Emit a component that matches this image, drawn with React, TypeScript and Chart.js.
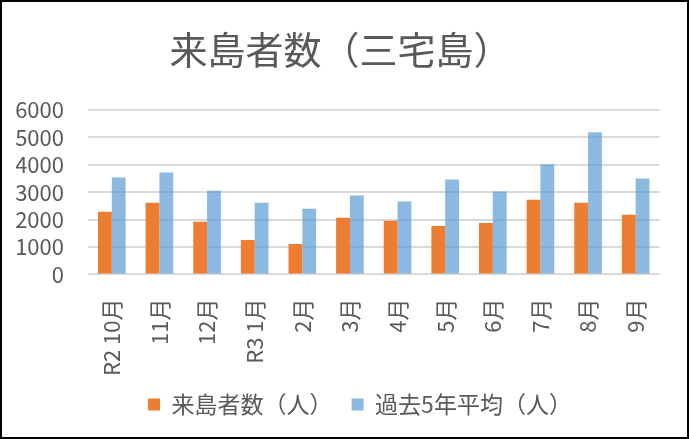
import React, { useEffect, useRef } from "react";
import { Chart, registerables } from "chart.js";

Chart.register(...registerables);

const categories: string[] = ["R2 10月", "11月", "12月", "R3 1月", "2月", "3月", "4月", "5月", "6月", "7月", "8月", "9月"];
const visitors = [2290, 2620, 1920, 1260, 1110, 2070, 1960, 1770, 1880, 2730, 2620, 2180];
const fiveYearAvg = [3540, 3720, 3060, 2620, 2400, 2880, 2660, 3470, 3030, 4020, 5190, 3500];
const yTicks = [0, 1000, 2000, 3000, 4000, 5000, 6000];
const titleText = "来島者数（三宅島）";
const seriesNames = ["来島者数（人）", "過去5年平均（人）"];

const FONT = "'Noto Sans CJK JP', 'Noto Sans', sans-serif";
const TEXT = "#595959";

const legendShift = {
  id: "legendShift",
  afterLayout(chart: any) {
    const lg = chart.legend;
    if (!lg) return;
    const dy = -26;
    const dx = 19.5;
    lg.top += dy;
    lg.bottom += dy;
    lg.left += dx;
    lg.right += dx;
  },
};

export default function App() {
  const ref = useRef<HTMLCanvasElement | null>(null);
  useEffect(() => {
    if (!ref.current) return;
    const chart = new Chart(ref.current, {
      type: "bar",
      data: {
        labels: categories,
        datasets: [
          {
            label: seriesNames[0],
            data: visitors,
            backgroundColor: "#ED7D31",
            barPercentage: 1,
            categoryPercentage: 0.58,
          },
          {
            label: seriesNames[1],
            data: fiveYearAvg,
            backgroundColor: "rgba(91,155,213,0.7)",
            barPercentage: 1,
            categoryPercentage: 0.58,
          },
        ],
      },
      plugins: [legendShift],
      options: {
        animation: false,
        responsive: false,
        maintainAspectRatio: false,
        layout: { padding: { left: 14, right: 22, top: 24.5, bottom: -15 } },
        plugins: {
          title: {
            display: true,
            text: titleText,
            color: TEXT,
            font: { family: FONT, size: 38, weight: "normal" },
            padding: { top: 0, bottom: 38 },
          },
          legend: {
            position: "bottom",
            labels: {
              color: TEXT,
              font: { family: FONT, size: 23 },
              boxWidth: 12,
              boxHeight: 12,
              padding: 19,
            },
          },
          tooltip: { enabled: false },
        },
        scales: {
          x: {
            grid: { display: false, drawTicks: false },
            border: { display: false },
            ticks: {
              color: TEXT,
              font: { family: FONT, size: 22 },
              minRotation: 90,
              maxRotation: 90,
              padding: 24,
              autoSkip: false,
            },
          },
          y: {
            min: 0,
            max: 6000,
            afterBuildTicks: (axis: any) => {
              axis.ticks = yTicks.map((v) => ({ value: v }));
            },
            grid: { color: "#D9D9D9", lineWidth: 2, drawTicks: false },
            border: { display: false },
            ticks: {
              autoSkip: false,
              color: TEXT,
              font: { family: FONT, size: 22 },
              padding: 24,
              callback: (v: any) => String(v),
            },
            afterFit: (axis: any) => {
              axis.width = 72;
            },
          },
        },
      },
    });
    return () => chart.destroy();
  }, []);
  return (
    <div
      style={{
        position: "fixed",
        left: 0,
        top: 0,
        width: 689,
        height: 439,
        boxSizing: "border-box",
        border: "2px solid #000",
        background: "#fff",
      }}
    >
      <canvas ref={ref} width={685} height={435} style={{ display: "block", width: 685, height: 435 }} />
    </div>
  );
}
